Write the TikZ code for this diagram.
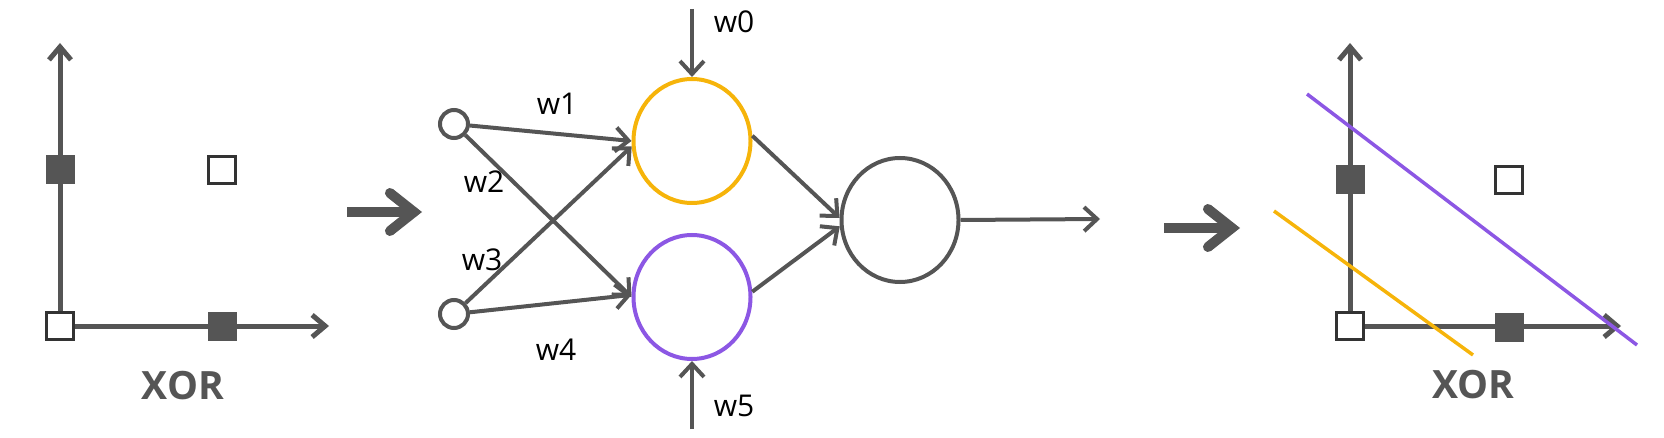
\documentclass[tikz,border=0pt]{standalone}
\usepackage{fontspec}
\setmainfont{Open Sans}
\usetikzlibrary{arrows.meta,shapes.geometric}
\definecolor{dg}{HTML}{555555}
\definecolor{orng}{HTML}{F6B40A}
\definecolor{purp}{HTML}{8C57E4}
\begin{document}
\begin{tikzpicture}[x=1pt,y=-1pt,
  axis/.style={draw=dg, line width=5, -{Straight Barb[length=13,width=22]}},
  fsq/.style={rectangle, fill=dg, minimum size=29, inner sep=0},
  osq/.style={rectangle, draw=black!80, line width=2.5, fill=white, minimum size=27, inner sep=0},
  inp/.style={circle, draw=dg, line width=4, minimum size=28, inner sep=0},
  neuron/.style={ellipse, line width=4, minimum width=117, minimum height=124, inner sep=0},
  conn/.style={draw=dg, line width=4, -{Straight Barb[length=13,width=24]}},
  bigarrow/.style={draw=dg, line width=10, -{Straight Barb[length=24,width=38,line cap=round]}},
  wlab/.style={font=\fontsize{30}{34}\selectfont, text=black, inner sep=0},
  xorlab/.style={font=\fontsize{39}{44}\selectfont\bfseries, text=dg, inner sep=0},
  sep/.style={line width=3.5}
]
\useasboundingbox (0,0) rectangle (1664,438);

% ---------- left plot ----------
\coordinate (o1) at (60,326);
\coordinate (yt1) at (60,43);
\coordinate (xt1) at (329,326);
\draw[axis] (o1) -- (yt1);
\draw[axis] (o1) -- (xt1);
\node[fsq] (a1) at (60,170) {};
\node[osq] (b1) at (222,170) {};
\node[osq] (c1) at (60,326) {};
\node[fsq] (d1) at (222,326) {};
\node[xorlab] (xor1) at (183,386) {XOR};

% ---------- big arrow 1 ----------
\coordinate (ba1s) at (347,212);
\coordinate (ba1e) at (422,212);
\draw[bigarrow] (ba1s) -- (ba1e);

% ---------- network ----------
\node[inp] (x1) at (454,124) {};
\node[inp] (x2) at (454,314) {};
\node[neuron, draw=orng] (h1) at (692,141) {};
\node[neuron, draw=purp] (h2) at (692,297) {};
\node[neuron, draw=dg] (out) at (900,220) {};

\draw[conn] (x1) -- (h1.180);
\draw[conn] (x1) -- (h2.180);
\draw[conn] (x2) -- (h1.185);
\draw[conn] (x2) -- (h2.178);
\draw[conn] (h1.5) -- (out.178);
\draw[conn] (h2.5) -- (out.186);

\coordinate (w0s) at (692,9);
\coordinate (w5s) at (692,429);
\draw[conn] (w0s) -- (h1.north);
\draw[conn] (w5s) -- (h2.south);
\coordinate (outE) at (1100,219);
\draw[conn] (out.east) -- (outE);

\node[wlab] (lw0) at (734,22) {w0};
\node[wlab] (lw1) at (557,104) {w1};
\node[wlab] (lw2) at (484,182) {w2};
\node[wlab] (lw3) at (482,260) {w3};
\node[wlab] (lw4) at (556,350) {w4};
\node[wlab] (lw5) at (734,406) {w5};

% ---------- big arrow 2 ----------
\coordinate (ba2s) at (1164,228);
\coordinate (ba2e) at (1240,228);
\draw[bigarrow] (ba2s) -- (ba2e);

% ---------- right plot ----------
\coordinate (o2) at (1350,326);
\coordinate (yt2) at (1350,43);
\coordinate (xt2) at (1621,326);
\draw[axis] (o2) -- (yt2);
\draw[axis] (o2) -- (xt2);
\coordinate (p1) at (1307,94);
\coordinate (p2) at (1637,345);
\coordinate (q1) at (1274,211);
\coordinate (q2) at (1473,355);
\draw[sep, purp] (p1) -- (p2);
\draw[sep, orng] (q1) -- (q2);
\node[fsq] (a2) at (1350,180) {};
\node[osq] (b2) at (1509,180) {};
\node[osq] (c2) at (1350,326) {};
\node[fsq] (d2) at (1509,327) {};
\node[xorlab] (xor2) at (1473,385) {XOR};
\end{tikzpicture}
\end{document}
